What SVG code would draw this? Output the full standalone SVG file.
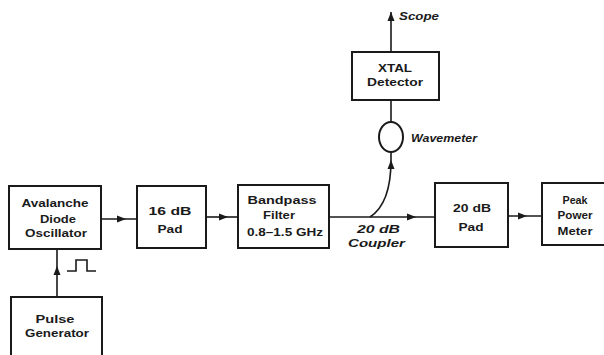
<svg xmlns="http://www.w3.org/2000/svg" width="604" height="355" viewBox="0 0 604 355">
<style>
.box{fill:none;stroke:#1a1a1a;stroke-width:2}
.ln{fill:none;stroke:#1a1a1a;stroke-width:1.6}
text{font-family:"Liberation Sans",Arial,sans-serif;font-weight:bold;font-size:11px;fill:#1a1a1a;text-anchor:middle}
.it{font-style:italic;text-anchor:start}
</style>
<defs>
<marker id="ah" markerUnits="userSpaceOnUse" markerWidth="9" markerHeight="8" refX="9" refY="4" orient="auto">
<path d="M0,0.5 L9,4 L0,7.5 z" fill="#1a1a1a"/>
</marker>
</defs>
<rect width="604" height="355" fill="#ffffff"/>
<g id="connectors">
<path class="ln" d="M101,219 L126,219 L137,219" marker-mid="url(#ah)"/>
<path class="ln" d="M206,217 L228,217 L238,217" marker-mid="url(#ah)"/>
<path class="ln" d="M329,217 L416,217 L436,217" marker-mid="url(#ah)"/>
<path class="ln" d="M508,216 L527,216 L542,216" marker-mid="url(#ah)"/>
<path class="ln" d="M57,297 L57,266 L57,249" marker-mid="url(#ah)"/>
<path class="ln" d="M370,217 C384,208 391,190 391,160 L391,152" marker-mid="url(#ah)"/>
<path class="ln" d="M391,100 L391,122"/>
<path class="ln" d="M391,52 L391,12" marker-end="url(#ah)"/>
<path class="ln" d="M67,271 L76,271 L76,260 L87,260 L87,271 L96,271"/>
</g>
<g id="avalanche">
<rect class="box" x="9" y="186" width="92" height="63"/>
<text x="55" y="207" textLength="67" lengthAdjust="spacingAndGlyphs">Avalanche</text>
<text x="58" y="223" textLength="36" lengthAdjust="spacingAndGlyphs">Diode</text>
<text x="56" y="237" textLength="62" lengthAdjust="spacingAndGlyphs">Oscillator</text>
</g>
<g id="pad16">
<rect class="box" x="137" y="186" width="69" height="62"/>
<text x="170" y="215" textLength="43" lengthAdjust="spacingAndGlyphs">16 dB</text>
<text x="170" y="233" textLength="25" lengthAdjust="spacingAndGlyphs">Pad</text>
</g>
<g id="bandpass">
<rect class="box" x="238" y="185" width="91" height="63"/>
<text x="282" y="204" textLength="69" lengthAdjust="spacingAndGlyphs">Bandpass</text>
<text x="279" y="219" textLength="32" lengthAdjust="spacingAndGlyphs">Filter</text>
<text x="285" y="236" textLength="76" lengthAdjust="spacingAndGlyphs">0.8–1.5 GHz</text>
</g>
<g id="coupler">
<text class="it" x="357" y="233" textLength="43" lengthAdjust="spacingAndGlyphs">20 dB</text>
<text class="it" x="348" y="247" textLength="57" lengthAdjust="spacingAndGlyphs">Coupler</text>
</g>
<g id="pad20">
<rect class="box" x="435" y="183" width="73" height="64"/>
<text x="472" y="212" textLength="38" lengthAdjust="spacingAndGlyphs">20 dB</text>
<text x="471" y="231" textLength="25" lengthAdjust="spacingAndGlyphs">Pad</text>
</g>
<g id="peak">
<rect class="box" x="542" y="183" width="66" height="62"/>
<text x="575" y="204" textLength="25" lengthAdjust="spacingAndGlyphs">Peak</text>
<text x="575" y="219" textLength="35" lengthAdjust="spacingAndGlyphs">Power</text>
<text x="575" y="235" textLength="35" lengthAdjust="spacingAndGlyphs">Meter</text>
</g>
<g id="wavemeter">
<ellipse class="box" cx="391" cy="137" rx="12" ry="15"/>
<text class="it" x="411" y="142" textLength="66" lengthAdjust="spacingAndGlyphs">Wavemeter</text>
</g>
<g id="xtal">
<rect class="box" x="352" y="52" width="87" height="48"/>
<text x="395" y="72" textLength="34" lengthAdjust="spacingAndGlyphs">XTAL</text>
<text x="395" y="86" textLength="56" lengthAdjust="spacingAndGlyphs">Detector</text>
</g>
<g id="scope">
<text class="it" x="399" y="20" textLength="40" lengthAdjust="spacingAndGlyphs">Scope</text>
</g>
<g id="pulse">
<path class="box" d="M11,358 L11,297 L102,297 L102,358"/>
<text x="55" y="323" textLength="39" lengthAdjust="spacingAndGlyphs">Pulse</text>
<text x="57" y="337" textLength="64" lengthAdjust="spacingAndGlyphs">Generator</text>
</g>
</svg>
